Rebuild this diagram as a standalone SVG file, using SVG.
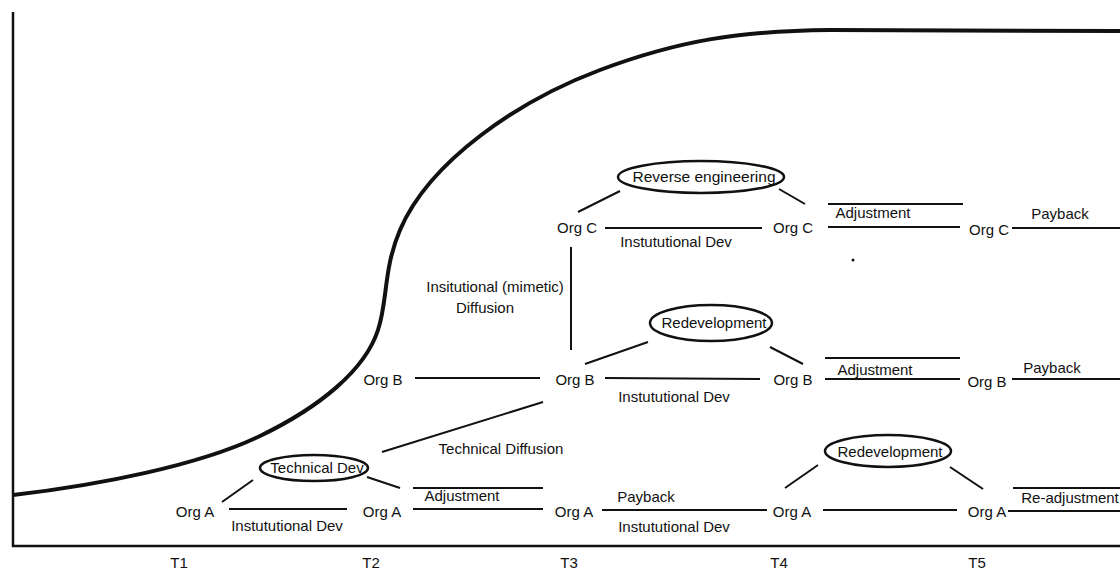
<svg xmlns="http://www.w3.org/2000/svg" width="1120" height="571" viewBox="0 0 1120 571">
<style>
text{font-family:"Liberation Sans",Arial,sans-serif;font-size:15px;fill:#111;text-anchor:middle}
.ln{stroke:#111;stroke-width:2;fill:none}
.el{stroke:#111;stroke-width:2.5;fill:none}
.ax{stroke:#111;stroke-width:2.5;fill:none}
.curve{stroke:#111;stroke-width:4;fill:none}
</style>
<rect width="1120" height="571" fill="#fff"/>
<g id="axes">
<path class="ax" d="M13,12 V546 H1120"/>
<path class="curve" d="M13,495 C100,485 200,465 260,436 C320,407 365,370 378,330 C388,300 383,270 400,230 C430,160 520,100 600,70 C680,40 740,31 830,30 L1120,31"/>
<text x="179" y="568">T1</text>
<text x="371" y="568">T2</text>
<text x="569" y="568">T3</text>
<text x="779" y="568">T4</text>
<text x="977" y="568">T5</text>
</g>
<g id="connectors">
<!-- row A -->
<line class="ln" x1="229" y1="509" x2="347" y2="509"/>
<line class="ln" x1="222" y1="502" x2="253" y2="480"/>
<line class="ln" x1="367" y1="477" x2="400" y2="488"/>
<line class="ln" x1="413" y1="488" x2="543" y2="488"/>
<line class="ln" x1="413" y1="509" x2="543" y2="509"/>
<line class="ln" x1="382" y1="452" x2="543" y2="402"/>
<line class="ln" x1="602" y1="510" x2="767" y2="510"/>
<line class="ln" x1="785" y1="488" x2="818" y2="465"/>
<line class="ln" x1="950" y1="467" x2="983" y2="489"/>
<line class="ln" x1="823" y1="510" x2="957" y2="510"/>
<line class="ln" x1="1013" y1="488" x2="1120" y2="488"/>
<line class="ln" x1="1008" y1="511" x2="1120" y2="511"/>
<!-- row B -->
<line class="ln" x1="415" y1="378" x2="540" y2="378"/>
<line class="ln" x1="605" y1="378" x2="760" y2="379"/>
<line class="ln" x1="585" y1="364" x2="648" y2="342"/>
<line class="ln" x1="770" y1="347" x2="803" y2="364"/>
<line class="ln" x1="571" y1="247" x2="571" y2="350"/>
<line class="ln" x1="825" y1="358" x2="960" y2="358"/>
<line class="ln" x1="825" y1="379" x2="960" y2="379"/>
<line class="ln" x1="1012" y1="379" x2="1120" y2="379"/>
<!-- row C -->
<line class="ln" x1="605" y1="228" x2="762" y2="228"/>
<line class="ln" x1="578" y1="212" x2="620" y2="191"/>
<line class="ln" x1="779" y1="189" x2="805" y2="204"/>
<line class="ln" x1="828" y1="204" x2="963" y2="204"/>
<line class="ln" x1="828" y1="227" x2="960" y2="227"/>
<line class="ln" x1="1012" y1="228" x2="1120" y2="228"/>
<circle cx="853" cy="260" r="1.5" fill="#111"/>
</g>
<g id="labels">
<text x="287" y="531">Instututional Dev</text>
<text x="462" y="501">Adjustment</text>
<text x="501" y="454">Technical Diffusion</text>
<text x="646" y="502">Payback</text>
<text x="674" y="532">Instututional Dev</text>
<text x="1070" y="503">Re-adjustment</text>
<text x="674" y="402">Instututional Dev</text>
<text x="875" y="375">Adjustment</text>
<text x="1052" y="373">Payback</text>
<text x="495" y="292">Insitutional (mimetic)</text>
<text x="485" y="313">Diffusion</text>
<text x="676" y="247">Instututional Dev</text>
<text x="873" y="218">Adjustment</text>
<text x="1060" y="219">Payback</text>
</g>
<g id="orgA-T1"><text x="195" y="517">Org A</text></g>
<g id="orgA-T2"><text x="382" y="517">Org A</text></g>
<g id="orgA-T3"><text x="574" y="517">Org A</text></g>
<g id="orgA-T4"><text x="792" y="517">Org A</text></g>
<g id="orgA-T5"><text x="987" y="517">Org A</text></g>
<g id="orgB-T2"><text x="383" y="385">Org B</text></g>
<g id="orgB-T3"><text x="575" y="385">Org B</text></g>
<g id="orgB-T4"><text x="793" y="385">Org B</text></g>
<g id="orgB-T5"><text x="987" y="387">Org B</text></g>
<g id="orgC-T3"><text x="577" y="233">Org C</text></g>
<g id="orgC-T4"><text x="793" y="233">Org C</text></g>
<g id="orgC-T5"><text x="989" y="235">Org C</text></g>
<g id="technical-dev"><ellipse class="el" cx="314" cy="468" rx="54" ry="13"/><text x="317" y="473">Technical Dev</text></g>
<g id="reverse-engineering"><ellipse class="el" cx="701" cy="177" rx="83" ry="16"/><text x="704" y="182" style="font-size:15.5px">Reverse engineering</text></g>
<g id="redevelopment-B"><ellipse class="el" cx="711" cy="323" rx="61" ry="18"/><text x="714" y="328">Redevelopment</text></g>
<g id="redevelopment-A"><ellipse class="el" cx="888" cy="451" rx="63" ry="16"/><text x="890" y="457">Redevelopment</text></g>
</svg>
